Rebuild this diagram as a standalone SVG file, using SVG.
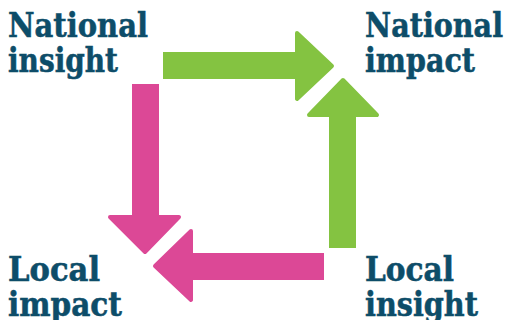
<svg xmlns="http://www.w3.org/2000/svg" width="509" height="320" viewBox="0 0 509 320">
  <style>
    .label { font-family: "DejaVu Serif", "Liberation Serif", serif; font-weight: bold; font-size: 34px; fill: #0d4d69; stroke: #0d4d69; stroke-width: 0.6; }
    .green { fill: #84c341; }
    .pink { fill: #dc4896; }
    .head-green { fill: #84c341; stroke: #84c341; stroke-width: 4; stroke-linejoin: round; }
    .head-pink { fill: #dc4896; stroke: #dc4896; stroke-width: 4; stroke-linejoin: round; }
  </style>

  <g id="connectors">
    <!-- National insight to National impact -->
    <g id="arrow-top">
      <rect class="green" x="163" y="52" width="134" height="27"/>
      <polygon class="head-green" points="297,33 332,66 297,99"/>
    </g>
    <!-- Local insight to National impact -->
    <g id="arrow-right">
      <rect class="green" x="329" y="115" width="27" height="133"/>
      <polygon class="head-green" points="309,115 343,80 377,115"/>
    </g>
    <!-- Local insight to Local impact -->
    <g id="arrow-bottom">
      <rect class="pink" x="191" y="253" width="133" height="27"/>
      <polygon class="head-pink" points="191,231 155,266 191,300"/>
    </g>
    <!-- National insight to Local impact -->
    <g id="arrow-left">
      <rect class="pink" x="132" y="84" width="27" height="133"/>
      <polygon class="head-pink" points="110,217 145,252 179,217"/>
    </g>
  </g>

  <g id="national-insight">
    <text class="label" x="8" y="37" textLength="140" lengthAdjust="spacingAndGlyphs">National</text>
    <text class="label" x="8" y="72" textLength="110" lengthAdjust="spacingAndGlyphs">insight</text>
  </g>
  <g id="national-impact">
    <text class="label" x="365" y="37" textLength="138" lengthAdjust="spacingAndGlyphs">National</text>
    <text class="label" x="365" y="72" textLength="110" lengthAdjust="spacingAndGlyphs">impact</text>
  </g>
  <g id="local-impact">
    <text class="label" x="8" y="281" textLength="92" lengthAdjust="spacingAndGlyphs">Local</text>
    <text class="label" x="8" y="316" textLength="114" lengthAdjust="spacingAndGlyphs">impact</text>
  </g>
  <g id="local-insight">
    <text class="label" x="365" y="281" textLength="89" lengthAdjust="spacingAndGlyphs">Local</text>
    <text class="label" x="365" y="316" textLength="113" lengthAdjust="spacingAndGlyphs">insight</text>
  </g>
</svg>
